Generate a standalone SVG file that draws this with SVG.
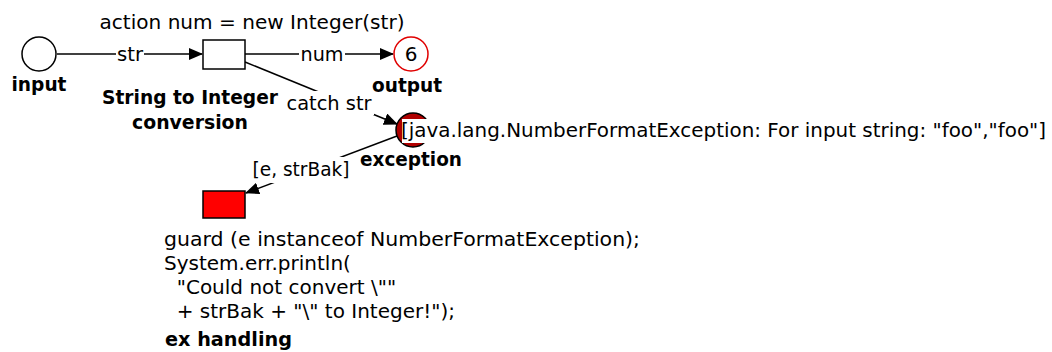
<svg xmlns="http://www.w3.org/2000/svg" width="1052" height="352" viewBox="0 0 1052 352">
<defs>
<style>
.t{font-family:"DejaVu Sans",sans-serif;font-size:20px;fill:#000}
.b{font-family:"DejaVu Sans",sans-serif;font-size:20px;font-weight:bold;fill:#000}
.e{stroke:#000;stroke-width:1.5;fill:none}
.bg{fill:#fff}
</style>
<marker id="ah" markerWidth="14" markerHeight="12" refX="13" refY="6" orient="auto" markerUnits="userSpaceOnUse">
<path d="M0,0 L14,6 L0,12 Z" fill="#000"/>
</marker>
</defs>
<rect width="1052" height="352" fill="#fff"/>
<g id="connectors">
<line class="e" x1="57" y1="54" x2="202" y2="54" marker-end="url(#ah)"/>
<rect class="bg" x="116" y="42" width="28" height="24"/>
<text class="t" x="130" y="61" text-anchor="middle" textLength="26" lengthAdjust="spacingAndGlyphs">str</text>
<line class="e" x1="245" y1="54" x2="393" y2="54" marker-end="url(#ah)"/>
<rect class="bg" x="299" y="42" width="46" height="24"/>
<text class="t" x="322" y="61" text-anchor="middle" textLength="43" lengthAdjust="spacingAndGlyphs">num</text>
<path class="e" d="M245,62 L397,124" marker-end="url(#ah)"/>
<rect class="bg" x="285" y="91" width="89" height="24"/>
<text class="t" x="329" y="110" text-anchor="middle" textLength="85" lengthAdjust="spacingAndGlyphs">catch str</text>
<path class="e" d="M397,136 L246,193" marker-end="url(#ah)"/>
<rect class="bg" x="251" y="157" width="101" height="26"/>
<text class="t" x="301" y="176" text-anchor="middle" textLength="97" lengthAdjust="spacingAndGlyphs">[e, strBak]</text>
</g>
<g id="input">
<circle cx="39" cy="54" r="17" fill="#fff" stroke="#000" stroke-width="1.5"/>
<text class="b" x="39" y="91" text-anchor="middle" textLength="55" lengthAdjust="spacingAndGlyphs">input</text>
</g>
<g id="conversion">
<rect x="203" y="40" width="42" height="29" fill="#fff" stroke="#000" stroke-width="1.5"/>
<text class="t" x="252" y="29" text-anchor="middle" textLength="305" lengthAdjust="spacingAndGlyphs">action num = new Integer(str)</text>
<text class="b" x="190" y="104" text-anchor="middle" textLength="176" lengthAdjust="spacingAndGlyphs">String to Integer</text>
<text class="b" x="190" y="129" text-anchor="middle" textLength="116" lengthAdjust="spacingAndGlyphs">conversion</text>
</g>
<g id="output">
<circle cx="411" cy="54" r="17" fill="#fff" stroke="#e00000" stroke-width="1.5"/>
<text class="t" x="411" y="61" text-anchor="middle">6</text>
<text class="b" x="407" y="92" text-anchor="middle" textLength="70" lengthAdjust="spacingAndGlyphs">output</text>
</g>
<g id="exception">
<circle cx="413" cy="130" r="17" fill="#b00000" stroke="#000" stroke-width="1.5"/>
<rect class="bg" x="402" y="119" width="646" height="24"/>
<text class="t" x="401" y="137" textLength="645" lengthAdjust="spacingAndGlyphs">[java.lang.NumberFormatException: For input string: "foo","foo"]</text>
<text class="b" x="411" y="166" text-anchor="middle" textLength="102" lengthAdjust="spacingAndGlyphs">exception</text>
</g>
<g id="ex-handling">
<rect x="203" y="191" width="42" height="27" fill="#f00" stroke="#000" stroke-width="1.5"/>
<text class="t" x="164" y="246" textLength="476" lengthAdjust="spacingAndGlyphs">guard (e instanceof NumberFormatException);</text>
<text class="t" x="164" y="270">System.err.println(</text>
<text class="t" x="164" y="294" xml:space="preserve">  "Could not convert \""</text>
<text class="t" x="164" y="318" xml:space="preserve">  + strBak + "\" to Integer!");</text>
<text class="b" x="165" y="346" textLength="127" lengthAdjust="spacingAndGlyphs">ex handling</text>
</g>
</svg>
